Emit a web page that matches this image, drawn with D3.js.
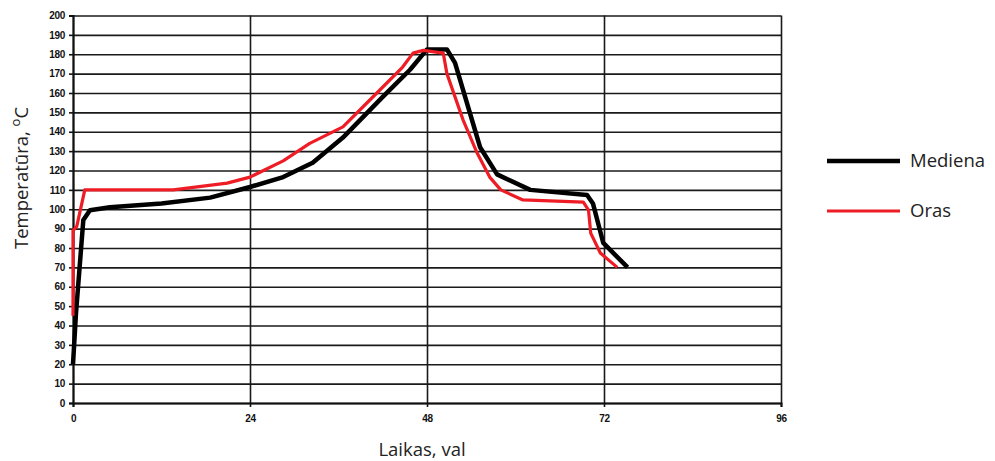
<!DOCTYPE html>
<html>
<head>
<meta charset="utf-8">
<script src="https://cdn.jsdelivr.net/npm/d3@7"></script>
<style>
  body { margin: 0; background: #fff; }
  svg { display: block; }
  .tick text { font-family: 'Liberation Sans', Arial, sans-serif; font-weight: bold; font-size: 10px; letter-spacing: -0.3px; fill: #111; }
</style>
</head>
<body>
<div id="graf"></div>
<script>
// I. Datos
xTicks = [0, 24, 48, 72, 96]
yTicks = d3.range(0, 201, 10)

// Mediena (laiks, temperatūra)
medienaH = [0, 0.4, 1.4, 2.3, 5, 12, 18.6, 24, 28.5, 32.5, 36.6, 42, 45.7, 48, 50.7, 51.8, 55.2, 57.5, 62, 69.7, 70.5, 71.9, 75.2]
medienaT = [20, 46, 94.5, 99.5, 101, 103, 106, 111.5, 116.6, 124, 137, 158, 172, 182.5, 182.5, 175.5, 132, 118, 110, 107.4, 103, 82.6, 70]

// Oras
orasH = [0, 0, 0.5, 1.6, 13.6, 20.9, 24, 28.5, 32.1, 36.6, 41.2, 44.7, 46.1, 47.5, 50.2, 50.7, 52.9, 54.8, 56.5, 58, 61, 69.2, 69.9, 70.2, 71.5, 73.8]
orasT = [45, 89, 91, 110, 110, 113.5, 116.6, 125, 134, 142.5, 160, 173.4, 180.6, 182, 180.6, 170, 146, 129, 116.6, 110, 104.8, 103.7, 99.6, 87.7, 77.4, 70]

series = [
  { nosaukums: 'Mediena', h: medienaH, t: medienaT, krasa: '#000', platums: 4.5 },
  { nosaukums: 'Oras', h: orasH, t: orasT, krasa: '#ee1c25', platums: 3.2 }
]

// II. Konfigurācija
ancho_total = 995
alto_total = 461
margins = { top: 15.5, left: 73, right: 214, bottom: 58 }
ancho = ancho_total - margins.left - margins.right
alto = alto_total - margins.top - margins.bottom

svg = d3.select('#graf').append('svg')
  .attr('width', ancho_total)
  .attr('height', alto_total)

g = svg.append('g')
  .attr('transform', `translate(${ margins.left },${ margins.top })`)

x = d3.scaleLinear().domain([0, 96]).range([0, ancho])
y = d3.scaleLinear().domain([0, 200]).range([alto, 0])

// Režģis
g.append('g')
  .attr('class', 'yGrid')
  .call(d3.axisLeft(y).tickValues(yTicks).tickSize(-ancho).tickFormat(''))
  .call(s => s.select('.domain').remove())
  .selectAll('line').attr('stroke', '#1a1a1a').attr('stroke-width', 1.6)

g.append('g')
  .attr('class', 'xGrid')
  .attr('transform', `translate(0,${ alto })`)
  .call(d3.axisBottom(x).tickValues(xTicks).tickSize(-alto).tickFormat(''))
  .call(s => s.select('.domain').remove())
  .selectAll('line').attr('stroke', '#1a1a1a').attr('stroke-width', 1.6)

// Asis
yAxis = g.append('g')
  .attr('class', 'y axis')
  .call(d3.axisLeft(y).tickValues(yTicks).tickSize(4).tickPadding(4))
yAxis.select('.domain').attr('stroke', '#111').attr('stroke-width', 2)
yAxis.selectAll('line').attr('stroke', '#111').attr('stroke-width', 1.6)

xAxis = g.append('g')
  .attr('class', 'x axis')
  .attr('transform', `translate(0,${ alto })`)
  .call(d3.axisBottom(x).tickValues(xTicks).tickSize(4).tickPadding(8))
xAxis.select('.domain').attr('stroke', '#111').attr('stroke-width', 2)
xAxis.selectAll('line').attr('stroke', '#111').attr('stroke-width', 1.6)

// Līnijas
line = d3.line()
  .x(d => x(d[0]))
  .y(d => y(d[1]))

series.forEach(s => {
  g.append('path')
    .datum(s.h.map((h, i) => [h, s.t[i]]))
    .attr('fill', 'none')
    .attr('stroke', s.krasa)
    .attr('stroke-width', s.platums)
    .attr('stroke-linejoin', 'round')
    .attr('d', line)
})

// Asu nosaukumi
svg.append('text')
  .attr('x', 422)
  .attr('y', 456)
  .attr('text-anchor', 'middle')
  .attr('font-family', "'Open Sans', sans-serif")
  .attr('font-size', '18.5px')
  .attr('fill', '#222')
  .text('Laikas, val')

yTitle = svg.append('text')
  .attr('transform', 'translate(28,178) rotate(-90)')
  .attr('text-anchor', 'middle')
  .attr('font-family', "'Open Sans', sans-serif")
  .attr('font-size', '18.5px')
  .attr('fill', '#222')
yTitle.append('tspan').text('Temperatūra, ')
yTitle.append('tspan').attr('dy', '-8').attr('font-size', '13px').text('o')
yTitle.append('tspan').attr('dy', '8').text('C')

// Leģenda
legend = svg.append('g').attr('transform', 'translate(827,161)')
series.forEach((s, i) => {
  legend.append('line')
    .attr('x1', 0).attr('x2', 73)
    .attr('y1', i * 50).attr('y2', i * 50)
    .attr('stroke', s.krasa)
    .attr('stroke-width', s.platums)
  legend.append('text')
    .attr('x', 83)
    .attr('y', i * 50)
    .attr('dy', '0.35em')
    .attr('font-family', "'Open Sans', sans-serif")
    .attr('font-size', '18.5px')
    .attr('fill', '#222')
    .text(s.nosaukums)
})
</script>
</body>
</html>
